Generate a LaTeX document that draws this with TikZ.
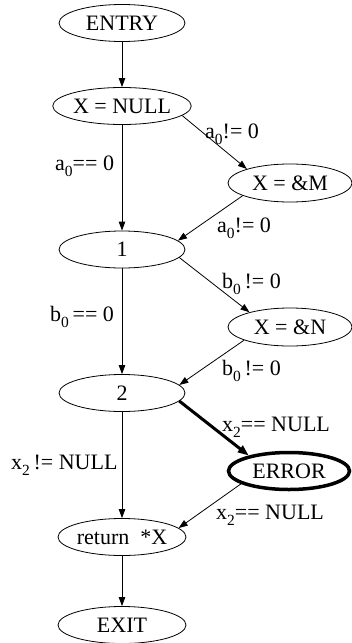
\documentclass[tikz,border=0pt]{standalone}
\usepackage{fontspec}
\setmainfont{Liberation Serif}
\usetikzlibrary{shapes.geometric,arrows.meta}
\newcommand{\subn}[1]{\raisebox{-0.28em}{\fontsize{15.5}{15.5}\selectfont #1}}
\tikzset{
  st/.style={ellipse, draw, line width=0.8pt, inner sep=0pt, minimum width=126pt, minimum height=37pt, font=\fontsize{22}{22}\selectfont},
  ed/.style={line width=0.8pt, -{Triangle[length=9pt,width=6.5pt]}},
  thk/.style={line width=3pt, -{Triangle[length=11pt,width=8pt]}},
  lbl/.style={anchor=base west, inner sep=0pt, font=\fontsize{22}{22}\selectfont}
}
\begin{document}
\begin{tikzpicture}[x=1pt,y=-1pt]
\useasboundingbox (0,0) rectangle (352,643);
\node[st] (entry) at (122,23) {ENTRY};
\node[st, minimum width=128pt] (xnull) at (122,106) {X = NULL};
\node[st, minimum width=124pt, minimum height=38pt] (xm) at (290,183) {X = \&M};
\node[st] (n1) at (122,249.5) {1};
\node[st, minimum width=124pt, minimum height=38pt] (xn) at (290,327) {X = \&N};
\node[st] (n2) at (122,393) {2};
\node[st, minimum width=121pt, minimum height=37pt, line width=3.5pt] (err) at (289,471) {ERROR};
\node[st, minimum width=128pt] (ret) at (122,537) {return\ \ *X};
\node[st, minimum width=128pt] (exit) at (122,625) {EXIT};

\draw[ed] (entry) -- (xnull);
\draw[ed] (xnull.-9) -- (xm.162);
\draw[ed] (xnull) -- (n1);
\draw[ed] (xm.195) -- (n1.9);
\draw[ed] (n1.-8) -- (xn.160);
\draw[ed] (n1) -- (n2);
\draw[ed] (xn.196) -- (n2.8);
\draw[thk] (n2.-8) -- (err.159);
\draw[ed] (n2) -- (ret);
\draw[ed] (err.195) -- (ret.9);
\draw[ed] (ret) -- (exit);

\node[lbl] (l1) at (205,138) {a\subn{0}!= 0};
\node[lbl] (l2) at (55,170.5) {a\subn{0}== 0};
\node[lbl] (l3) at (217,232) {a\subn{0}!= 0};
\node[lbl] (l4) at (222,288) {b\subn{0}\,!= 0};
\node[lbl] (l5) at (50,321) {b\subn{0}\,== 0};
\node[lbl] (l6) at (222,375) {b\subn{0}\,!= 0};
\node[lbl] (l7) at (222,431) {x\subn{2}== NULL};
\node[lbl] (l8) at (11,469) {x\subn{2}\,!= NULL};
\node[lbl] (l9) at (216,519) {x\subn{2}== NULL};
\end{tikzpicture}
\end{document}
